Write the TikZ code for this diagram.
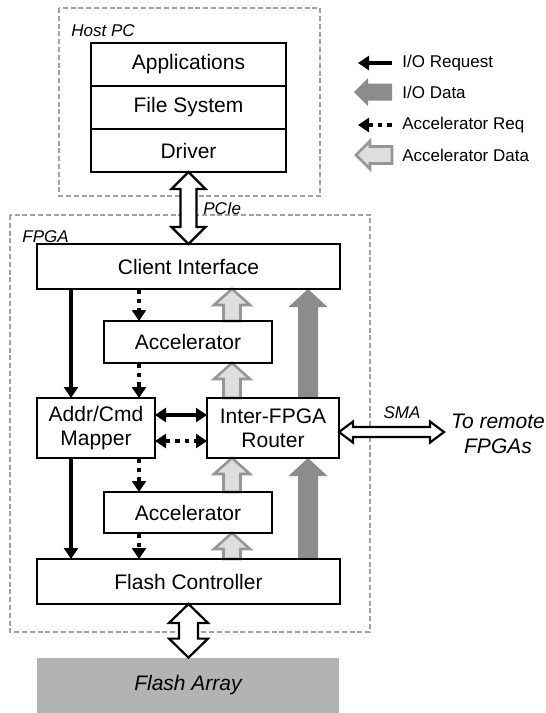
\documentclass[tikz,border=0pt]{standalone}
\usepackage{fontspec}
\setmainfont{Liberation Sans}
\usetikzlibrary{arrows.meta,calc,positioning,backgrounds}
\definecolor{iogray}{RGB}{140,140,140}
\definecolor{accfill}{RGB}{222,222,222}
\definecolor{accline}{RGB}{150,150,150}
\definecolor{arraygray}{RGB}{179,179,179}
\definecolor{framegray}{RGB}{160,160,160}
\newcommand\mainsz{\fontsize{10.5}{12}\selectfont}
\newcommand\smallsz{\fontsize{8.5}{10}\selectfont}
% block arrows: style, from, to, shaft half, head half, head length
\newcommand\upblock[6]{\path[#1] let \p1=(#2), \p2=(#3) in
    (\x1-#4,\y1) -- (\x1-#4,\y2-#6) -- (\x1-#5,\y2-#6) -- (\x1,\y2) -- (\x1+#5,\y2-#6) -- (\x1+#4,\y2-#6) -- (\x1+#4,\y1) -- cycle;}
\newcommand\leftblock[6]{\path[#1] let \p1=(#2), \p2=(#3) in
    (\x1,\y1+#4) -- (\x2+#6,\y1+#4) -- (\x2+#6,\y1+#5) -- (\x2,\y1) -- (\x2+#6,\y1-#5) -- (\x2+#6,\y1-#4) -- (\x1,\y1-#4) -- cycle;}
\newcommand\vdblock[6]{\path[#1] let \p1=(#2), \p2=(#3) in
    (\x1,\y1) -- (\x1+#5,\y1-#6) -- (\x1+#4,\y1-#6) -- (\x1+#4,\y2+#6) -- (\x1+#5,\y2+#6) -- (\x1,\y2)
    -- (\x1-#5,\y2+#6) -- (\x1-#4,\y2+#6) -- (\x1-#4,\y1-#6) -- (\x1-#5,\y1-#6) -- cycle;}
\newcommand\hdblock[6]{\path[#1] let \p1=(#2), \p2=(#3) in
    (\x1,\y1) -- (\x1+#6,\y1+#5) -- (\x1+#6,\y1+#4) -- (\x2-#6,\y1+#4) -- (\x2-#6,\y1+#5) -- (\x2,\y1)
    -- (\x2-#6,\y1-#5) -- (\x2-#6,\y1-#4) -- (\x1+#6,\y1-#4) -- (\x1+#6,\y1-#5) -- cycle;}
\tikzset
{
    frame/.style = {draw=framegray, line width=0.6pt, dash pattern=on 2.5pt off 1.4pt},
    unit/.style = {draw=black, line width=1.2pt, inner sep=0pt, outer sep=0pt, align=center, font=\mainsz},
    stackbox/.style = {unit, minimum width=97.5pt, minimum height=21.5pt},
    ioreq/.style = {line width=2.4pt, ->},
    accreq/.style = {ioreq, dash pattern=on 2.4pt off 2.4pt},
    iodata/.style = {fill=iogray},
    accdata/.style = {fill=accfill, draw=accline, line width=1.3pt},
    hollow/.style = {fill=white, draw=black, line width=1.1pt},
    note/.style = {font=\smallsz\itshape, inner sep=0pt},
    legtext/.style = {font=\smallsz, anchor=west, inner sep=0pt}
}

\begin{document}
\begin{tikzpicture}[x=0.5pt, y=-0.5pt, >={Triangle[length=5.5pt,width=7pt]}]
\useasboundingbox (0,0) rectangle (546,713);

% frames
\draw[frame] (59,8) rectangle (320,196);
\draw[frame] (10,215) rectangle (370,632);
\node[note, anchor=west] (hostlbl) at (71,31) {Host PC};
\node[note, anchor=west] (fpgalbl) at (22,237) {FPGA};

% host stack
\node[stackbox] (apps) at (188.5,64.5) {Applications};
\node[stackbox, below=0pt of apps] (fs) {File System};
\node[stackbox, below=0pt of fs] (drv) {Driver};

% fpga units
\node[unit, minimum width=151.5pt, minimum height=22.5pt] (client) at (188.5,266.5) {Client Interface};
\node[unit, minimum width=84pt, minimum height=21pt] (accone) at (188,342) {Accelerator};
\node[unit, minimum width=59pt, minimum height=30pt] (mapper) at (96,428) {Addr/Cmd\\Mapper};
\node[unit, minimum width=66pt, minimum height=30pt] (router) at (273,428) {Inter-FPGA\\Router};
\node[unit, minimum width=84pt, minimum height=20.5pt] (acctwo) at (188,512.5) {Accelerator};
\node[unit, minimum width=151.5pt, minimum height=22.5pt] (flash) at (188.5,581.5) {Flash Controller};
\node[fill=arraygray, minimum width=151pt, minimum height=27.5pt, inner sep=0pt, font=\mainsz\itshape] (array) at (188,685.5) {Flash Array};

\coordinate (xreq) at (71,0);
\coordinate (xacc) at (139,0);
\coordinate (xad) at (232,0);
\coordinate (xio) at (308,0);
\coordinate (smaend) at (444,432);

% data paths
\begin{scope}[on background layer]
\upblock{accdata}{flash.north -| xad}{acctwo.south -| xad}{4.25pt}{9pt}{8pt}
\upblock{accdata}{acctwo.north -| xad}{router.south -| xad}{4.25pt}{9pt}{8pt}
\upblock{accdata}{router.north -| xad}{accone.south -| xad}{4.25pt}{9pt}{8pt}
\upblock{accdata}{accone.north -| xad}{client.south -| xad}{4.25pt}{9pt}{8pt}
\upblock{iodata}{flash.north -| xio}{router.south -| xio}{5pt}{9.75pt}{9pt}
\upblock{iodata}{router.north -| xio}{client.south -| xio}{5pt}{9.75pt}{9pt}
\end{scope}

% requests
\draw[ioreq] (client.south -| xreq) -- (mapper.north -| xreq);
\draw[ioreq] (mapper.south -| xreq) -- (flash.north -| xreq);
\draw[accreq] (client.south -| xacc) -- (accone.north -| xacc);
\draw[accreq] (accone.south -| xacc) -- (mapper.north -| xacc);
\draw[accreq] (mapper.south -| xacc) -- (acctwo.north -| xacc);
\draw[accreq] (acctwo.south -| xacc) -- (flash.north -| xacc);
\draw[ioreq, <->] ([yshift=6.5pt]mapper.east) -- ([yshift=6.5pt]router.west);
\draw[accreq, <->] ([yshift=-6.5pt]mapper.east) -- ([yshift=-6.5pt]router.west);

% links
\vdblock{hollow}{drv.south}{client.north}{4pt}{8.5pt}{8.5pt}
\vdblock{hollow}{flash.south}{array.north}{4.75pt}{9.75pt}{9.5pt}
\hdblock{hollow}{[yshift=-2pt]router.east}{smaend}{2.5pt}{5.25pt}{7pt}
\node[note, anchor=west] (pcielbl) at (203,209) {PCIe};
\node[note] (smalbl) at (402,413) {SMA};
\node[font=\fontsize{10.5}{12.5}\selectfont\itshape, align=center, inner sep=0pt] (remote) at (498,434) {To remote\\FPGAs};

% legend
\coordinate (lgreqa) at (392,63);
\coordinate (lgreqb) at (358,63);
\draw[ioreq] (lgreqa) -- (lgreqb);
\node[legtext] (lgreq) at (402,63) {I/O Request};
\coordinate (lgdataa) at (392,92);
\coordinate (lgdatab) at (354,92);
\leftblock{iodata}{lgdataa}{lgdatab}{4.25pt}{7pt}{7pt}
\node[legtext] (lgdata) at (402,92) {I/O Data};
\coordinate (lgacca) at (392,125);
\coordinate (lgaccb) at (358,125);
\draw[accreq] (lgacca) -- (lgaccb);
\node[legtext] (lgacc) at (402,125) {Accelerator Req};
\coordinate (lgada) at (392,155);
\coordinate (lgadb) at (356,155);
\leftblock{accdata}{lgada}{lgadb}{4.25pt}{7pt}{7pt}
\node[legtext] (lgad) at (402,155) {Accelerator Data};
\end{tikzpicture}
\end{document}
